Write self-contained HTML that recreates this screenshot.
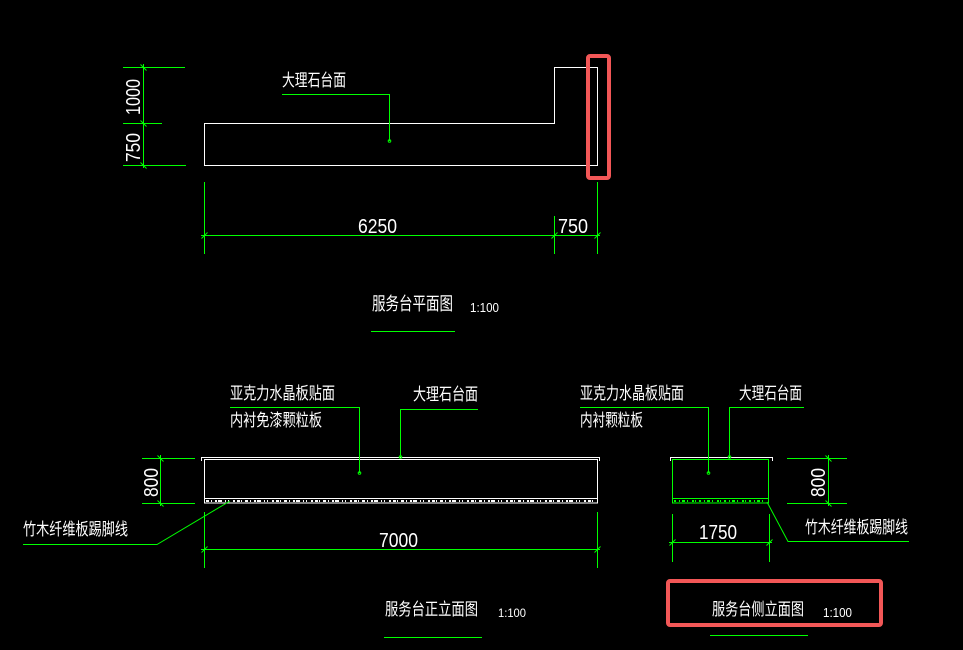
<!DOCTYPE html>
<html><head><meta charset="utf-8"><style>
html,body{margin:0;padding:0;background:#000;}
svg{display:block;}
text{fill:#fff;}
.cjk{font-family:"Liberation Sans","Noto Sans CJK SC",sans-serif;}
.num{font-family:"Liberation Sans",sans-serif;}
</style></head><body>
<svg width="963" height="650" viewBox="0 0 963 650" xmlns="http://www.w3.org/2000/svg">
<rect width="963" height="650" fill="#000"/>
<g fill="none" stroke-width="1" shape-rendering="crispEdges">
<!-- ===== PLAN ===== -->
<path d="M204.5,123.5 H554.5 V67.5 H597.5 V165.5 H204.5 Z" stroke="#fff"/>
<g stroke="#00ff00">
<line x1="143.5" y1="64" x2="143.5" y2="168"/>
<line x1="123" y1="67.5" x2="185" y2="67.5"/>
<line x1="123" y1="123.5" x2="162" y2="123.5"/>
<line x1="123" y1="165.5" x2="186" y2="165.5"/>
<path d="M282,94.5 H389.5 V141"/>
<line x1="204.5" y1="182" x2="204.5" y2="254"/>
<line x1="554.5" y1="216" x2="554.5" y2="254"/>
<line x1="597.5" y1="182" x2="597.5" y2="254"/>
<line x1="201" y1="235.5" x2="600" y2="235.5"/>
</g>
<g stroke="#00ff00" shape-rendering="auto">
<line x1="140.5" y1="64.5" x2="146.5" y2="70.5"/>
<line x1="140.5" y1="120.5" x2="146.5" y2="126.5"/>
<line x1="140.5" y1="162.5" x2="146.5" y2="168.5"/>
<line x1="201.5" y1="238.5" x2="207.5" y2="232.5"/>
<line x1="551.5" y1="238.5" x2="557.5" y2="232.5"/>
<line x1="594.5" y1="238.5" x2="600.5" y2="232.5"/>
<circle cx="389.5" cy="141" r="1.3"/>
</g>
<rect x="588" y="56" width="21" height="122" rx="2" stroke="#f25757" stroke-width="4" shape-rendering="auto"/>
<line x1="371" y1="331.5" x2="455" y2="331.5" stroke="#00ff00"/>

<!-- ===== FRONT ELEVATION ===== -->
<g stroke="#fff">
<path d="M201.5,461 V457.5 H599.5 V461"/>
<rect x="204.5" y="459.5" width="393" height="43.5"/>
<line x1="204.5" y1="498.5" x2="597.5" y2="498.5"/>
</g>
<line x1="206" y1="501" x2="596" y2="501" stroke="#fff" stroke-width="2" stroke-dasharray="3 2 1 3 2 1 4 3 1 2 1 4 2 2 3 1 1 3"/>
<g stroke="#00ff00">
<line x1="160.5" y1="455" x2="160.5" y2="506"/>
<line x1="142" y1="458.5" x2="195" y2="458.5"/>
<line x1="142" y1="503.5" x2="195" y2="503.5"/>
<path d="M230,407.5 H359.5 V473"/>
<path d="M478,409.5 H400.5 V457"/>
<line x1="204.5" y1="512" x2="204.5" y2="568"/>
<line x1="597.5" y1="512" x2="597.5" y2="568"/>
<line x1="201" y1="549.5" x2="600" y2="549.5"/>
<line x1="384" y1="637.5" x2="482" y2="637.5"/>
</g>
<g stroke="#00ff00" shape-rendering="auto">
<line x1="157.5" y1="455.5" x2="163.5" y2="461.5"/>
<line x1="157.5" y1="500.5" x2="163.5" y2="506.5"/>
<line x1="201.5" y1="552.5" x2="207.5" y2="546.5"/>
<line x1="594.5" y1="552.5" x2="600.5" y2="546.5"/>
<path d="M23,544.5 H157 L230,501"/>
<circle cx="359.5" cy="473" r="1.3"/>
<circle cx="400.5" cy="457" r="1.3"/>
</g>

<!-- ===== SIDE ELEVATION ===== -->
<path d="M670.5,461 V457.5 H772.5 V461" stroke="#fff"/>
<g stroke="#00ff00">
<rect x="672.5" y="459.5" width="96" height="43.5"/>
<line x1="672.5" y1="498.5" x2="768.5" y2="498.5"/>
<path d="M580,407.5 H708.5 V473"/>
<path d="M804,407.5 H729.5 V457"/>
<line x1="787" y1="458.5" x2="847" y2="458.5"/>
<line x1="787" y1="503.5" x2="847" y2="503.5"/>
<line x1="828.5" y1="455" x2="828.5" y2="506"/>
<line x1="672.5" y1="514" x2="672.5" y2="562"/>
<line x1="769.5" y1="514" x2="769.5" y2="562"/>
<line x1="669" y1="542.5" x2="772" y2="542.5"/>
<line x1="710" y1="635.5" x2="808" y2="635.5"/>
</g>
<line x1="674" y1="501" x2="767" y2="501" stroke="#00ff00" stroke-width="2" stroke-dasharray="2 3 1 2 3 2 1 4 2 1 1 3"/>
<g stroke="#00ff00" shape-rendering="auto">
<line x1="825.5" y1="455.5" x2="831.5" y2="461.5"/>
<line x1="825.5" y1="500.5" x2="831.5" y2="506.5"/>
<line x1="669.5" y1="545.5" x2="675.5" y2="539.5"/>
<line x1="766.5" y1="545.5" x2="772.5" y2="539.5"/>
<path d="M767,502 L788,541.5 H909"/>
<circle cx="708.5" cy="473" r="1.3"/>
<circle cx="729.5" cy="457" r="1.3"/>
</g>
<rect x="668" y="581" width="213" height="44" rx="2" stroke="#f25757" stroke-width="4" shape-rendering="auto"/>
</g>

<!-- ===== TEXT ===== -->
<g class="cjk" font-size="17">
<text x="282" y="86" textLength="64" lengthAdjust="spacingAndGlyphs">大理石台面</text>
<text x="372" y="310" font-size="18" textLength="81" lengthAdjust="spacingAndGlyphs">服务台平面图</text>
<text x="230" y="399" textLength="105" lengthAdjust="spacingAndGlyphs">亚克力水晶板贴面</text>
<text x="230" y="426" textLength="92" lengthAdjust="spacingAndGlyphs">内衬免漆颗粒板</text>
<text x="413" y="400" textLength="65" lengthAdjust="spacingAndGlyphs">大理石台面</text>
<text x="23" y="535" textLength="105" lengthAdjust="spacingAndGlyphs">竹木纤维板踢脚线</text>
<text x="385" y="615" textLength="93" lengthAdjust="spacingAndGlyphs">服务台正立面图</text>
<text x="580" y="399" textLength="104" lengthAdjust="spacingAndGlyphs">亚克力水晶板贴面</text>
<text x="580" y="426" textLength="63" lengthAdjust="spacingAndGlyphs">内衬颗粒板</text>
<text x="739" y="399" textLength="63" lengthAdjust="spacingAndGlyphs">大理石台面</text>
<text x="805" y="533" textLength="103" lengthAdjust="spacingAndGlyphs">竹木纤维板踢脚线</text>
<text x="712" y="615" textLength="92" lengthAdjust="spacingAndGlyphs">服务台侧立面图</text>
</g>
<g class="num">
<text x="358" y="233" font-size="20" textLength="39" lengthAdjust="spacingAndGlyphs">6250</text>
<text x="558" y="233" font-size="20" textLength="30" lengthAdjust="spacingAndGlyphs">750</text>
<text x="379" y="547" font-size="20" textLength="39" lengthAdjust="spacingAndGlyphs">7000</text>
<text x="699" y="539" font-size="20" textLength="38" lengthAdjust="spacingAndGlyphs">1750</text>
<text x="470" y="312" font-size="13" textLength="29" lengthAdjust="spacingAndGlyphs">1:100</text>
<text x="498" y="617" font-size="12" textLength="28" lengthAdjust="spacingAndGlyphs">1:100</text>
<text x="823" y="617" font-size="13" textLength="29" lengthAdjust="spacingAndGlyphs">1:100</text>
<text transform="translate(140,97) rotate(-90)" font-size="20" text-anchor="middle" textLength="36" lengthAdjust="spacingAndGlyphs">1000</text>
<text transform="translate(140,147.5) rotate(-90)" font-size="20" text-anchor="middle" textLength="29" lengthAdjust="spacingAndGlyphs">750</text>
<text transform="translate(158,482.5) rotate(-90)" font-size="20" text-anchor="middle" textLength="29" lengthAdjust="spacingAndGlyphs">800</text>
<text transform="translate(825,482.5) rotate(-90)" font-size="20" text-anchor="middle" textLength="29" lengthAdjust="spacingAndGlyphs">800</text>
</g>
</svg>
</body></html>
